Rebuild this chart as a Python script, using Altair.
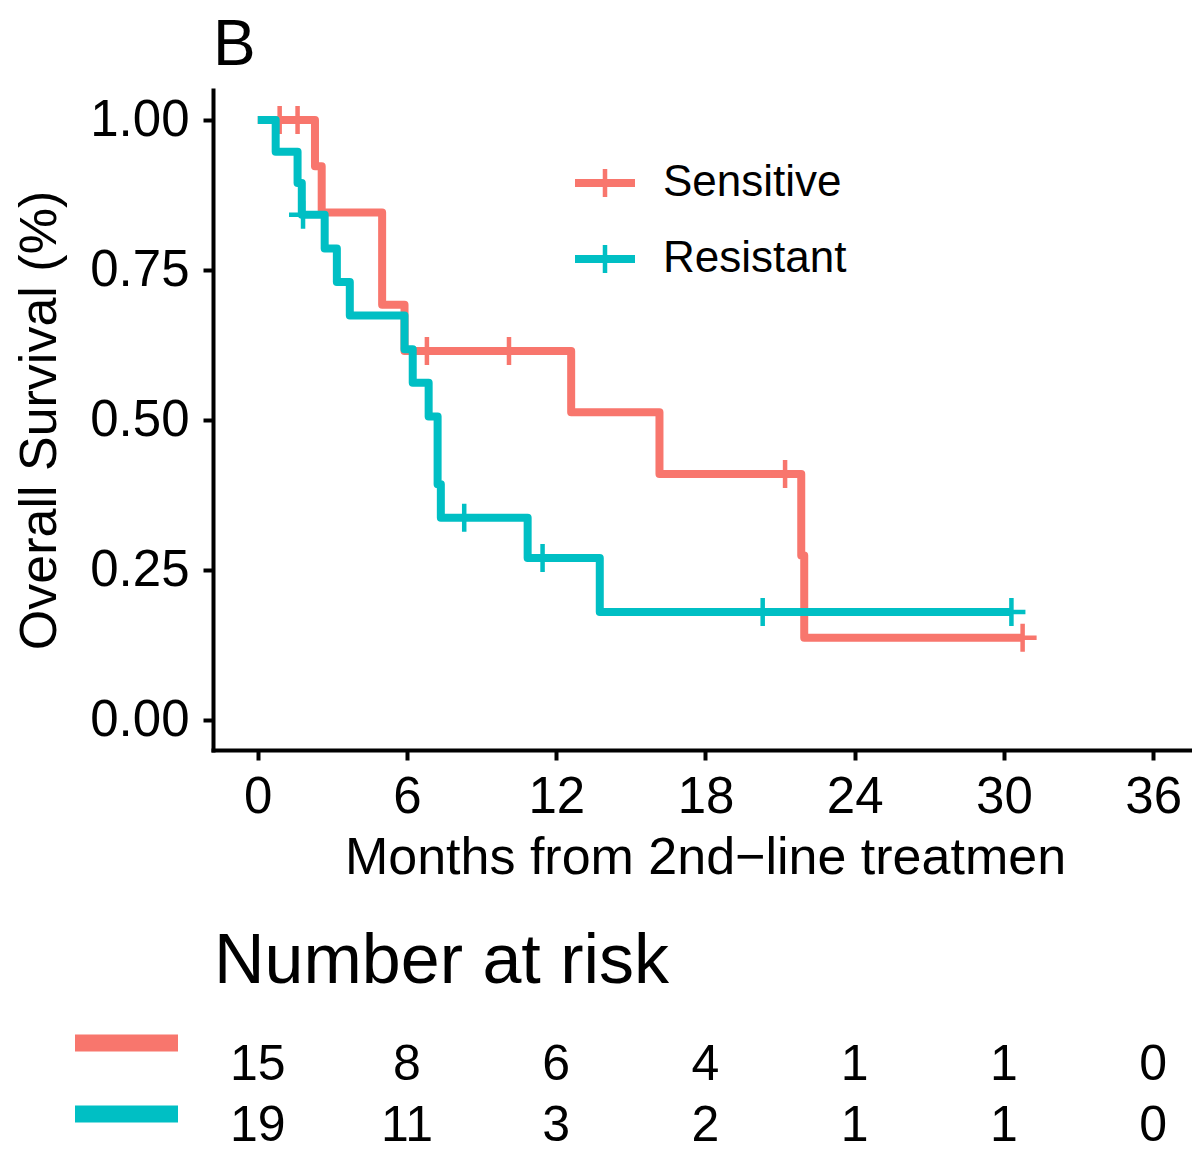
import altair as alt
import pandas as pd

FONT = "Liberation Sans"

groups = ["Sensitive", "Resistant"]
colors = ["#F8766D", "#00BFC4"]

# Kaplan-Meier step points (time in months, survival probability)
sens_time = [0, 2.3, 2.57, 5.0, 5.9, 12.6, 16.15, 21.85, 21.97, 30.75]
sens_surv = [1.0, 0.923, 0.846, 0.692, 0.615, 0.513, 0.410, 0.274, 0.137, 0.137]
sens_cens_time = [0.88, 1.6, 6.8, 10.1, 21.2, 30.75]
sens_cens_surv = [1.0, 1.0, 0.615, 0.615, 0.410, 0.137]

res_time = [0, 0.72, 1.6, 1.77, 2.69, 3.18, 3.7, 5.9, 6.23, 6.87, 7.23, 7.36, 10.85, 13.75, 30.3]
res_surv = [1.0, 0.947, 0.895, 0.842, 0.786, 0.730, 0.674, 0.618, 0.562, 0.506, 0.393, 0.337, 0.270, 0.180, 0.180]
res_cens_time = [1.82, 8.3, 11.45, 20.3, 30.3]
res_cens_surv = [0.842, 0.337, 0.270, 0.180, 0.180]

x_ticks = [0, 6, 12, 18, 24, 30, 36]
y_ticks = [0.0, 0.25, 0.5, 0.75, 1.0]

risk_times = [0, 6, 12, 18, 24, 30, 36]
risk_sens = [15, 8, 6, 4, 1, 1, 0]
risk_res = [19, 11, 3, 2, 1, 1, 0]

x_title = "Months from 2nd\u2212line treatmen"
y_title = "Overall Survival (%)"
panel_label = "B"
risk_title = "Number at risk"

PLUS = "M-1,0H1M0,-1V1"

x_enc = alt.X(
    "time:Q",
    scale=alt.Scale(domain=[-1.8, 37.56], nice=False, zero=False),
    axis=alt.Axis(values=x_ticks, title=x_title, labelPadding=12,
                  titleY=123, titleX=492, titleBaseline="alphabetic"),
)
y_enc = alt.Y(
    "surv:Q",
    scale=alt.Scale(domain=[-0.05, 1.05], nice=False, zero=False),
    axis=alt.Axis(values=y_ticks, format=".2f", title=y_title, labelPadding=14,
                  titleX=-158, titleY=330, titleAngle=-90,
                  titleBaseline="alphabetic", titleAlign="center"),
)

layers = []
curves = [
    (sens_time, sens_surv, sens_cens_time, sens_cens_surv),
    (res_time, res_surv, res_cens_time, res_cens_surv),
]
for g, col, (t, s, ct, cs) in zip(groups, colors, curves):
    df = pd.DataFrame({"time": t, "surv": s, "group": g})
    layers.append(
        alt.Chart(df).mark_line(interpolate="step-after", strokeWidth=8,
                                strokeJoin="round", strokeCap="butt", color=col)
        .encode(x=x_enc, y=y_enc)
    )
    cdf = pd.DataFrame({"time": ct, "surv": cs, "group": g})
    layers.append(
        alt.Chart(cdf).mark_point(shape=PLUS, filled=False, size=784,
                                  strokeWidth=4.5, opacity=1, color=col)
        .encode(x=x_enc, y=y_enc)
    )

# legend (manual, top right inside plot)
for i, (g, col) in enumerate(zip(groups, colors)):
    yy = 93 + 76 * i
    ldf = pd.DataFrame({"label": [g]})
    layers.append(
        alt.Chart(ldf).mark_rule(strokeWidth=8, color=col, strokeCap="butt")
        .encode(x=alt.value(362), x2=alt.value(422), y=alt.value(yy))
    )
    layers.append(
        alt.Chart(ldf).mark_point(shape=PLUS, filled=False, size=784,
                                  strokeWidth=4.5, opacity=1, color=col)
        .encode(x=alt.value(392), y=alt.value(yy))
    )
    layers.append(
        alt.Chart(ldf).mark_text(align="left", baseline="middle", fontSize=44,
                                 font=FONT, color="black")
        .encode(x=alt.value(450), y=alt.value(yy), text="label:N")
    )

# panel label
layers.append(
    alt.Chart(pd.DataFrame({"label": [panel_label]}))
    .mark_text(align="left", baseline="alphabetic", fontSize=64, font=FONT, color="black")
    .encode(x=alt.value(0), y=alt.value(-25), text="label:N")
)

# risk table title
layers.append(
    alt.Chart(pd.DataFrame({"label": [risk_title]}))
    .mark_text(align="left", baseline="alphabetic", fontSize=70, font=FONT, color="black")
    .encode(x=alt.value(1), y=alt.value(893), text="label:N")
)

# risk table rows
risk_rows = [risk_sens, risk_res]
row_baselines = [990, 1051]
bar_centers = [953, 1024]
for g, col, counts, yb, yc in zip(groups, colors, risk_rows, row_baselines, bar_centers):
    rdf = pd.DataFrame({"time": risk_times, "n": counts, "group": g})
    layers.append(
        alt.Chart(rdf).mark_text(align="center", baseline="alphabetic", fontSize=50,
                                 font=FONT, color="black")
        .encode(x=x_enc, y=alt.value(yb), text="n:Q")
    )
    layers.append(
        alt.Chart(pd.DataFrame({"label": [g]})).mark_rule(strokeWidth=17, color=col, strokeCap="butt")
        .encode(x=alt.value(-138), x2=alt.value(-35), y=alt.value(yc))
    )

chart = (
    alt.layer(*layers)
    .properties(
        width=979,
        height=660,
        padding={"left": 205, "top": 82, "right": 0, "bottom": 402},
        autosize=alt.AutoSizeParams(type="none"),
        background="white",
    )
    .configure_view(stroke=None)
    .configure_axis(
        grid=False,
        domainColor="black",
        domainWidth=4,
        domainCap="square",
        tickColor="black",
        tickWidth=4,
        tickSize=10,
        labelColor="black",
        labelFontSize=51,
        labelFont=FONT,
        titleFont=FONT,
        titleFontSize=52,
        titleFontWeight="normal",
        titleColor="black",
    )
)

chart.save("out.html", embed_options={"renderer": "svg", "actions": False})
